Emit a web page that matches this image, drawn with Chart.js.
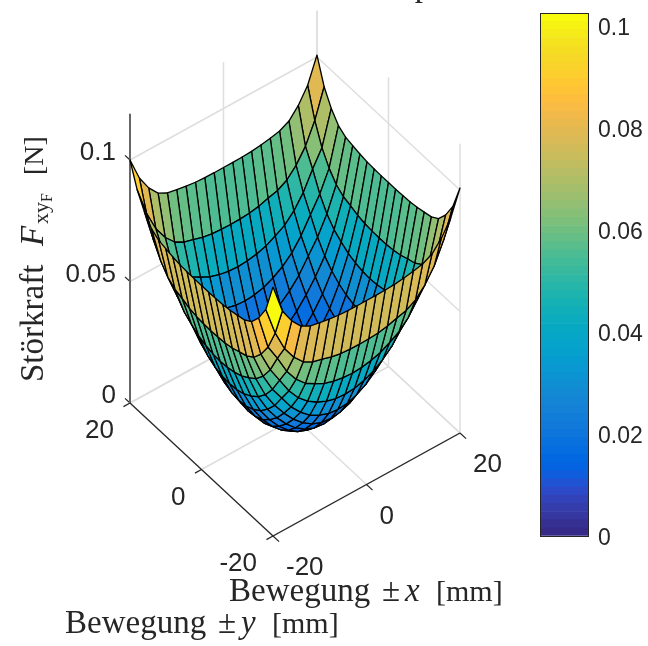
<!DOCTYPE html>
<html>
<head>
<meta charset="utf-8">
<title>Störkraft</title>
<script src="https://cdn.jsdelivr.net/npm/chart.js@4"></script>
<style>
    html, body { margin: 0; padding: 0; background: #fff; }
    canvas { position: absolute; top: 0; }
    #surface-chart { left: 0; }
    #colorbar-chart { left: 500px; }
</style>
</head>
<body>
<canvas id="surface-chart" width="648" height="646"></canvas>
<canvas id="colorbar-chart" width="148" height="646"></canvas>
<script>
// Grid of the surface in mm
const xValues = [-20, -18, -16, -14, -12, -10, -8, -6, -4, -2, 0, 2, 4, 6, 8, 10, 12, 14, 16, 18, 20];
const yValues = [-20, -18, -16, -14, -12, -10, -8, -6, -4, -2, 0, 2, 4, 6, 8, 10, 12, 14, 16, 18, 20];

// Force in N, one row per y value
const forceRows = [
    [.1025, .0905, .0843, .0800, .0780, .0772, .0765, .0760, .0758, .0757, .0757, .0757, .0758, .0760, .0765, .0772, .0780, .0800, .0843, .0905, .1008],
    [.0905, .0787, .0702, .0645, .0605, .0583, .0573, .0561, .0554, .0551, .0550, .0551, .0554, .0561, .0573, .0583, .0605, .0645, .0702, .0787, .0905],
    [.0843, .0702, .0635, .0560, .0506, .0468, .0445, .0425, .0413, .0406, .0403, .0406, .0413, .0425, .0445, .0468, .0506, .0560, .0635, .0702, .0843],
    [.0800, .0645, .0560, .0496, .0431, .0381, .0346, .0321, .0303, .0293, .0290, .0293, .0303, .0321, .0346, .0381, .0431, .0496, .0560, .0645, .0800],
    [.0780, .0605, .0506, .0431, .0374, .0316, .0273, .0240, .0218, .0204, .0200, .0204, .0218, .0240, .0273, .0316, .0374, .0431, .0506, .0605, .0780],
    [.0772, .0583, .0468, .0381, .0316, .0263, .0217, .0181, .0155, .0140, .0135, .0140, .0155, .0181, .0217, .0263, .0316, .0381, .0468, .0583, .0772],
    [.0765, .0573, .0445, .0346, .0273, .0217, .0170, .0133, .0106, .0090, .0085, .0090, .0106, .0133, .0170, .0217, .0273, .0346, .0445, .0573, .0765],
    [.0760, .0561, .0425, .0321, .0240, .0181, .0133, .0096, .0069, .0053, .0048, .0053, .0069, .0096, .0133, .0181, .0240, .0321, .0425, .0561, .0760],
    [.0758, .0554, .0413, .0303, .0218, .0155, .0106, .0069, .0043, .0027, .0021, .0027, .0043, .0069, .0106, .0155, .0218, .0303, .0413, .0554, .0758],
    [.0757, .0551, .0406, .0293, .0204, .0140, .0090, .0053, .0027, .0011, .0005, .0011, .0027, .0053, .0090, .0140, .0204, .0293, .0406, .0551, .0757],
    [.0757, .0550, .0403, .0290, .0200, .0135, .0085, .0048, .0021, .0005, .0000, .0005, .0021, .0048, .0085, .0135, .0200, .0290, .0403, .0550, .0757],
    [.0757, .0551, .0406, .0293, .0204, .0140, .0090, .0053, .0027, .0011, .0005, .0011, .0027, .0053, .0090, .0140, .0204, .0293, .0406, .0551, .0757],
    [.0758, .0554, .0413, .0303, .0218, .0155, .0106, .0069, .0043, .0027, .0021, .0027, .0043, .0069, .0106, .0155, .0218, .0303, .0413, .0554, .0758],
    [.0760, .0561, .0425, .0321, .0240, .0181, .0133, .0096, .0069, .0053, .0048, .0053, .0069, .0096, .0133, .0181, .0240, .0321, .0425, .0561, .0760],
    [.0765, .0573, .0445, .0346, .0273, .0217, .0170, .0133, .0106, .0090, .0085, .0090, .0106, .0133, .0170, .0217, .0273, .0346, .0445, .0573, .0765],
    [.0772, .0583, .0468, .0381, .0316, .0263, .0217, .0181, .0155, .0140, .0135, .0140, .0155, .0181, .0217, .0263, .0316, .0381, .0468, .0583, .0772],
    [.0780, .0605, .0506, .0431, .0374, .0316, .0273, .0240, .0218, .0204, .0200, .0204, .0218, .0240, .0273, .0316, .0374, .0431, .0506, .0605, .0780],
    [.0800, .0645, .0560, .0496, .0431, .0381, .0346, .0321, .0303, .0293, .0290, .0293, .0303, .0321, .0346, .0381, .0431, .0496, .0560, .0645, .0800],
    [.0843, .0702, .0635, .0560, .0506, .0468, .0445, .0425, .0413, .0406, .0403, .0406, .0413, .0425, .0445, .0468, .0506, .0560, .0635, .0702, .0843],
    [.0905, .0787, .0702, .0645, .0605, .0583, .0573, .0561, .0554, .0551, .0550, .0551, .0554, .0561, .0573, .0583, .0605, .0645, .0702, .0787, .0905],
    [.1000, .0905, .0843, .0800, .0780, .0772, .0765, .0760, .0758, .0757, .0757, .0757, .0758, .0760, .0765, .0772, .0780, .0800, .0843, .0905, .1008]
];

// Axis ticks
const xTicks = [-20, 0, 20];
const yTicks = [-20, 0, 20];
const zTicks = [0, 0.05, 0.1];
const xTickLabels = ['-20', '0', '20'];
const yTickLabels = ['-20', '0', '20'];
const zTickLabels = ['0', '0.05', '0.1'];
const zTop = 0.119;

// Colour scale
const colorMax = 0.10255;
const colorbarTicks = [0, 0.02, 0.04, 0.06, 0.08, 0.1];
const parula = [
    [.2081, .1663, .5292], [.2116, .1898, .5777], [.2123, .2138, .6270], [.2081, .2386, .6771],
    [.1959, .2645, .7279], [.1707, .2919, .7792], [.1253, .3242, .8303], [.0591, .3598, .8683],
    [.0117, .3875, .8820], [.0060, .4086, .8828], [.0165, .4266, .8786], [.0329, .4430, .8720],
    [.0498, .4586, .8641], [.0629, .4737, .8554], [.0723, .4887, .8467], [.0779, .5040, .8384],
    [.0793, .5200, .8312], [.0749, .5375, .8263], [.0641, .5570, .8240], [.0488, .5772, .8228],
    [.0343, .5966, .8199], [.0265, .6137, .8135], [.0239, .6287, .8038], [.0231, .6418, .7913],
    [.0228, .6535, .7768], [.0267, .6642, .7607], [.0384, .6743, .7436], [.0590, .6838, .7254],
    [.0843, .6928, .7062], [.1133, .7015, .6859], [.1453, .7098, .6646], [.1801, .7177, .6424],
    [.2178, .7250, .6193], [.2586, .7317, .5954], [.3022, .7376, .5712], [.3482, .7424, .5473],
    [.3953, .7459, .5244], [.4420, .7481, .5033], [.4871, .7491, .4840], [.5300, .7491, .4661],
    [.5709, .7485, .4494], [.6099, .7473, .4337], [.6473, .7456, .4188], [.6834, .7435, .4044],
    [.7184, .7411, .3905], [.7525, .7384, .3768], [.7858, .7356, .3633], [.8185, .7327, .3498],
    [.8507, .7299, .3360], [.8824, .7274, .3217], [.9139, .7258, .3063], [.9450, .7261, .2886],
    [.9739, .7314, .2666], [.9938, .7455, .2403], [.9990, .7653, .2164], [.9955, .7861, .1967],
    [.9880, .8066, .1794], [.9789, .8271, .1633], [.9697, .8481, .1475], [.9626, .8705, .1309],
    [.9589, .8949, .1132], [.9598, .9218, .0948], [.9661, .9514, .0755], [.9763, .9831, .0538]
];

const TEXT_COLOR = '#262626';
const GRID_COLOR = '#dedede';
const TICK_FONT = '26px "Liberation Sans"';
const SERIF = '"Liberation Serif"';

// View of the 3D box: the x=-20, y=-20 corner on the floor, and the way one mm or one N moves on screen
function project(x, y, z) {
    return {
        x: 273 + (x + 20) * 4.675 - (y + 20) * 3.575,
        y: 536 - (x + 20) * 2.575 - (y + 20) * 3.325 - z * 2430
    };
}

function colorFor(value) {
    const index = Math.min(parula.length - 1, Math.max(0, Math.floor(value / colorMax * parula.length)));
    const c = parula[index];
    return `rgb(${Math.round(c[0] * 255)}, ${Math.round(c[1] * 255)}, ${Math.round(c[2] * 255)})`;
}

function lineDataset(points, color, width) {
    return {
        data: points,
        showLine: true,
        fill: false,
        borderColor: color,
        borderWidth: width,
        pointRadius: 0,
        tension: 0
    };
}

function buildSurfaceDatasets() {
    const datasets = [];
    // Chart.js paints the first dataset last, so the cells nearest the viewer come first
    for (let i = 0; i < xValues.length - 1; i++) {
        for (let j = 0; j < yValues.length - 1; j++) {
            const corner = (a, b) => project(xValues[a], yValues[b], forceRows[b][a]);
            const cell = [corner(i, j), corner(i + 1, j), corner(i + 1, j + 1), corner(i, j + 1), corner(i, j)];
            datasets.push({
                data: cell,
                showLine: true,
                fill: 'shape',
                backgroundColor: colorFor(forceRows[j][i]),
                borderColor: '#000000',
                borderWidth: 1.3,
                borderJoinStyle: 'round',
                pointRadius: 0,
                tension: 0
            });
        }
    }
    return datasets;
}

function buildAxisDatasets() {
    const datasets = [];
    const xMin = xTicks[0], xMax = xTicks[xTicks.length - 1];
    const yMin = yTicks[0], yMax = yTicks[yTicks.length - 1];

    // Dark axes and tick marks
    datasets.push(lineDataset([project(xMin, yMin, 0), project(xMax, yMin, 0)], TEXT_COLOR, 1.2));
    datasets.push(lineDataset([project(xMin, yMin, 0), project(xMin, yMax, 0)], TEXT_COLOR, 1.2));
    datasets.push(lineDataset([project(xMin, yMax, 0), project(xMin, yMax, zTop)], '#666666', 2));
    xTicks.forEach(x => datasets.push(lineDataset([project(x, yMin, 0), project(x, yMin - 1.7, 0)], TEXT_COLOR, 1.2)));
    yTicks.forEach(y => datasets.push(lineDataset([project(xMin, y, 0), project(xMin - 1.4, y, 0)], TEXT_COLOR, 1.2)));
    zTicks.forEach(z => datasets.push(lineDataset([project(xMin, yMax, z), project(xMin, yMax + 1.4, z)], TEXT_COLOR, 1.2)));

    // Light grid on the floor and the two back walls
    xTicks.forEach(x => {
        datasets.push(lineDataset([project(x, yMin, 0), project(x, yMax, 0)], GRID_COLOR, 1.5));
        datasets.push(lineDataset([project(x, yMax, 0), project(x, yMax, zTop)], GRID_COLOR, 1.5));
    });
    yTicks.forEach(y => {
        datasets.push(lineDataset([project(xMin, y, 0), project(xMax, y, 0)], GRID_COLOR, 1.5));
        datasets.push(lineDataset([project(xMax, y, 0), project(xMax, y, zTop)], GRID_COLOR, 1.5));
    });
    zTicks.forEach(z => {
        datasets.push(lineDataset([project(xMin, yMax, z), project(xMax, yMax, z)], GRID_COLOR, 1.5));
        datasets.push(lineDataset([project(xMax, yMin, z), project(xMax, yMax, z)], GRID_COLOR, 1.5));
    });
    return datasets;
}

// Draws a run of differently styled pieces of text along a baseline starting at x, y
function drawRichText(ctx, pieces, x, y) {
    let cursor = x;
    pieces.forEach(piece => {
        if (piece.at !== undefined) cursor = x + piece.at;
        ctx.font = piece.font;
        ctx.fillText(piece.text, cursor, y + (piece.shift || 0));
        cursor += ctx.measureText(piece.text).width;
    });
}

function axisTitle(letter) {
    return [
        { text: 'Bewegung', font: `33px ${SERIF}` },
        { text: '±', font: `33px ${SERIF}`, at: 153 },
        { text: letter, font: `italic 33px ${SERIF}`, at: 176 },
        { text: '[mm]', font: `30px ${SERIF}`, at: 207 }
    ];
}

const surfaceLabels = {
    id: 'surfaceLabels',
    afterDraw(chart) {
        const ctx = chart.ctx;
        ctx.save();
        ctx.fillStyle = TEXT_COLOR;
        ctx.textBaseline = 'middle';

        // Tick labels
        ctx.font = TICK_FONT;
        ctx.textAlign = 'right';
        zTicks.forEach((z, n) => {
            const p = project(xTicks[0], yTicks[yTicks.length - 1], z);
            ctx.fillText(zTickLabels[n], 116, p.y - 7);
        });
        yTicks.forEach((y, n) => {
            const p = project(xTicks[0], y, 0);
            ctx.fillText(yTickLabels[n], p.x - 16, p.y + 28);
        });
        ctx.textAlign = 'left';
        xTicks.forEach((x, n) => {
            const p = project(x, yTicks[0], 0);
            ctx.fillText(xTickLabels[n], p.x + 13, p.y + 32);
        });

        // Axis titles
        ctx.textBaseline = 'alphabetic';
        drawRichText(ctx, axisTitle('x'), 229, 601);
        drawRichText(ctx, axisTitle('y'), 65, 633);

        ctx.save();
        ctx.translate(43, 382);
        ctx.rotate(-Math.PI / 2);
        drawRichText(ctx, [
            { text: 'Störkraft', font: `33px ${SERIF}` },
            { text: 'F', font: `italic 33px ${SERIF}`, at: 136 },
            { text: 'xy', font: `22px ${SERIF}`, shift: 5, at: 158 },
            { text: 'F', font: `16px ${SERIF}`, shift: 9 },
            { text: '[N]', font: `28px ${SERIF}`, at: 207 }
        ], 0, 0);
        ctx.restore();

        // Only the tail of the title fits inside the figure
        ctx.font = `33px ${SERIF}`;
        ctx.textAlign = 'center';
        ctx.fillText('p', 423, -4);
        ctx.restore();
    }
};

new Chart(document.getElementById('surface-chart'), {
    type: 'scatter',
    data: { datasets: buildSurfaceDatasets().concat(buildAxisDatasets()) },
    options: {
        responsive: false,
        animation: false,
        normalized: true,
        layout: { padding: 0 },
        plugins: { legend: { display: false }, tooltip: { enabled: false } },
        scales: {
            x: { type: 'linear', display: false, min: 0, max: 648 },
            y: { type: 'linear', display: false, min: 0, max: 646, reverse: true }
        }
    },
    plugins: [surfaceLabels]
});

// Colour bar: one floating bar per colormap level
const colorbarBox = {
    id: 'colorbarBox',
    afterDraw(chart) {
        const area = chart.chartArea;
        chart.ctx.save();
        chart.ctx.strokeStyle = TEXT_COLOR;
        chart.ctx.lineWidth = 1;
        chart.ctx.strokeRect(area.left + 0.5, area.top + 0.5, area.right - area.left, area.bottom - area.top);
        chart.ctx.restore();
    }
};

new Chart(document.getElementById('colorbar-chart'), {
    type: 'bar',
    data: {
        labels: [''],
        datasets: parula.map((c, n) => ({
            data: [[n * colorMax / parula.length, (n + 1) * colorMax / parula.length]],
            backgroundColor: colorFor((n + 0.5) * colorMax / parula.length),
            barPercentage: 1,
            categoryPercentage: 1,
            grouped: false,
            borderWidth: 0
        }))
    },
    options: {
        responsive: false,
        animation: false,
        layout: { padding: { top: 13, bottom: 110, left: 40, right: 0 } },
        plugins: { legend: { display: false }, tooltip: { enabled: false } },
        scales: {
            x: { display: false },
            y: {
                position: 'right',
                min: 0,
                max: colorMax,
                afterBuildTicks(scale) {
                    scale.ticks = colorbarTicks.map(value => ({ value }));
                },
                afterFit(scale) {
                    scale.width = 60;
                    scale.paddingTop = 0;
                    scale.paddingBottom = 0;
                },
                border: { color: TEXT_COLOR },
                grid: { drawOnChartArea: false, tickLength: -6, tickColor: TEXT_COLOR },
                ticks: {
                    padding: 16,
                    labelOffset: 3,
                    color: TEXT_COLOR,
                    font: { family: 'Liberation Sans', size: 23 },
                    callback: value => String(+value.toFixed(2))
                }
            }
        }
    },
    plugins: [colorbarBox]
});
</script>
</body>
</html>
